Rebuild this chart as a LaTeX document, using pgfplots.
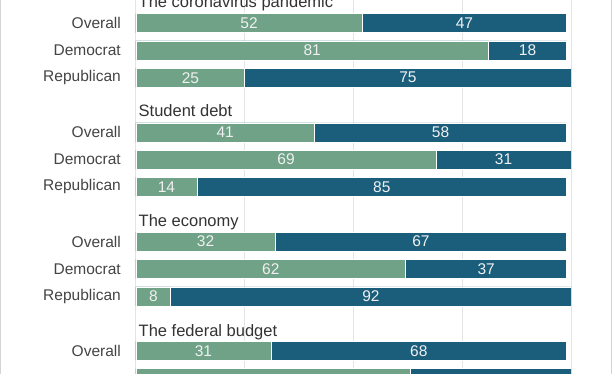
\documentclass[border=0pt]{standalone}
\usepackage{pgfplots}
\usepackage{pgfplotstable}
\usepackage{fontspec}
\setmainfont{Liberation Sans}
\pgfplotsset{compat=1.18}
\definecolor{cgreen}{RGB}{111,162,135}
\definecolor{cblue}{RGB}{26,94,124}
\definecolor{cgrid}{RGB}{228,228,228}
\definecolor{ctext}{RGB}{68,68,68}
\definecolor{ctitle}{RGB}{51,51,51}
\definecolor{cborder}{RGB}{212,212,212}
\pgfplotstableread{
k g b
0 52 47
1 81 18
2 25 75
4 41 58
5 69 31
6 14 85
8 32 67
9 62 37
10 8 92
12 31 68
13 63 37
}\data

\begin{document}
\begin{tikzpicture}[x=1pt,y=1pt]
\useasboundingbox (-136,0) rectangle (476,374);
\clip (-136,0) rectangle (476,374);
\fill[white] (-136,0) rectangle (476,374);
\draw[cborder, line width=1pt] (-135.5,0) -- (-135.5,374);
\draw[cborder, line width=1pt] (475.5,0) -- (475.5,374);
\begin{axis}[at={(0,0)}, anchor=south west, scale only axis,
  width=435pt, height=374pt,
  xmin=0, xmax=100, ymin=-0.842, ymax=12.843, y dir=reverse,
  axis line style={draw=none},
  xtick={0,25,50,75,100}, xticklabels={},
  xmajorgrids, major grid style={cgrid, line width=1pt},
  major tick length=0pt,
  ytick={0,1,2,4,5,6,8,9,10,12,13},
  yticklabels={Overall,Democrat,Republican,Overall,Democrat,Republican,Overall,Democrat,Republican,Overall,Democrat},
  yticklabel style={font=\fontsize{15.5}{18}\selectfont, text=ctext, inner sep=0pt, xshift=-15pt},
  clip=true]
\addplot[xbar, bar width=19pt, bar shift=0pt, fill=cblue, draw=white, line width=0.6pt]
  table[x expr=\thisrow{g}+\thisrow{b}, y=k]{\data};
\addplot[xbar, bar width=19pt, bar shift=0pt, fill=cgreen, draw=white, line width=0.6pt]
  table[x=g, y=k]{\data};
\addplot[only marks, mark=*, mark size=0pt, mark options={draw=none,fill=none},
  nodes near coords, point meta=explicit symbolic,
  nodes near coords style={anchor=center, font=\fontsize{15.5}{18}\selectfont, text=white!94!black}]
  table[x expr=\thisrow{g}/2, y=k, meta=g]{\data};
\addplot[only marks, mark=*, mark size=0pt, mark options={draw=none,fill=none},
  nodes near coords, point meta=explicit symbolic,
  nodes near coords style={anchor=center, font=\fontsize{15.5}{18}\selectfont, text=white!94!black}]
  table[x expr=\thisrow{g}+\thisrow{b}/2, y=k, meta=b]{\data};
\node[anchor=base west, font=\fontsize{16.5}{19}\selectfont, text=ctitle, inner sep=0pt, xshift=2.5pt, yshift=-12pt] at (axis cs:0,-1) {The coronavirus pandemic};
\node[anchor=base west, font=\fontsize{16.5}{19}\selectfont, text=ctitle, inner sep=0pt, xshift=2.5pt, yshift=-12pt] at (axis cs:0,3) {Student debt};
\node[anchor=base west, font=\fontsize{16.5}{19}\selectfont, text=ctitle, inner sep=0pt, xshift=2.5pt, yshift=-12pt] at (axis cs:0,7) {The economy};
\node[anchor=base west, font=\fontsize{16.5}{19}\selectfont, text=ctitle, inner sep=0pt, xshift=2.5pt, yshift=-12.5pt] at (axis cs:0,11) {The federal budget};
\end{axis}
\end{tikzpicture}
\end{document}
